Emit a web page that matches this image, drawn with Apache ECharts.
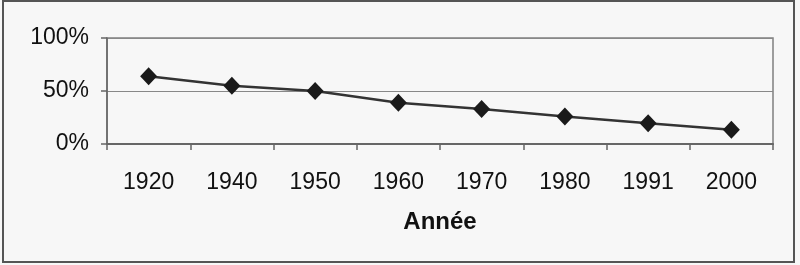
<!DOCTYPE html>
<html>
<head>
<meta charset="utf-8">
<script src="https://cdn.jsdelivr.net/npm/echarts@6/dist/echarts.min.js"></script>
<style>
html,body{margin:0;padding:0;background:#f7f7f7;}
#c{width:800px;height:265px;}
</style>
</head>
<body>
<div id="c"></div>
<script>
const categories = ['1920','1940','1950','1960','1970','1980','1991','2000'];
const values = [0.64, 0.55, 0.50, 0.39, 0.33, 0.26, 0.195, 0.135];
const yTicks = [0, 0.5, 1];
const xName = 'Année';

const chart = echarts.init(document.getElementById('c'));
chart.setOption({
  backgroundColor: '#f7f7f7',
  animation: false,
  graphic: [{
    type: 'rect',
    shape: {x: 3, y: 1, width: 791, height: 261},
    style: {fill: 'none', stroke: '#555', lineWidth: 2},
    silent: true
  }],
  grid: {
    left: 107, right: 27, top: 38, bottom: 121,
    show: true, borderColor: '#808080', borderWidth: 1.5, backgroundColor: 'transparent'
  },
  xAxis: {
    type: 'category',
    data: categories,
    boundaryGap: true,
    name: xName,
    nameLocation: 'middle',
    nameGap: 66,
    nameTextStyle: {fontFamily: 'Liberation Sans, Arial', fontSize: 24, fontWeight: 'bold', color: '#111'},
    axisLine: {lineStyle: {color: '#666', width: 2}},
    axisTick: {show: true, length: 6, lineStyle: {color: '#666', width: 1.5}},
    axisLabel: {fontFamily: 'Liberation Sans, Arial', fontSize: 23, color: '#111', margin: 27}
  },
  yAxis: {
    type: 'value',
    min: 0, max: 1, interval: 0.5,
    axisLine: {show: true, lineStyle: {color: '#666', width: 1.5}},
    axisTick: {show: true, length: 6, lineStyle: {color: '#666', width: 1.5}},
    axisLabel: {
      fontFamily: 'Liberation Sans, Arial', fontSize: 23, color: '#111', margin: 18,
      formatter: v => yTicks.includes(v) ? Math.round(v * 100) + '%' : ''
    },
    splitLine: {show: true, lineStyle: {color: '#888', width: 1}}
  },
  series: [{
    type: 'line',
    data: values,
    symbol: 'diamond',
    symbolSize: [17, 18],
    lineStyle: {color: '#333', width: 2.5},
    itemStyle: {color: '#1a1a1a'}
  }]
});
</script>
</body>
</html>
